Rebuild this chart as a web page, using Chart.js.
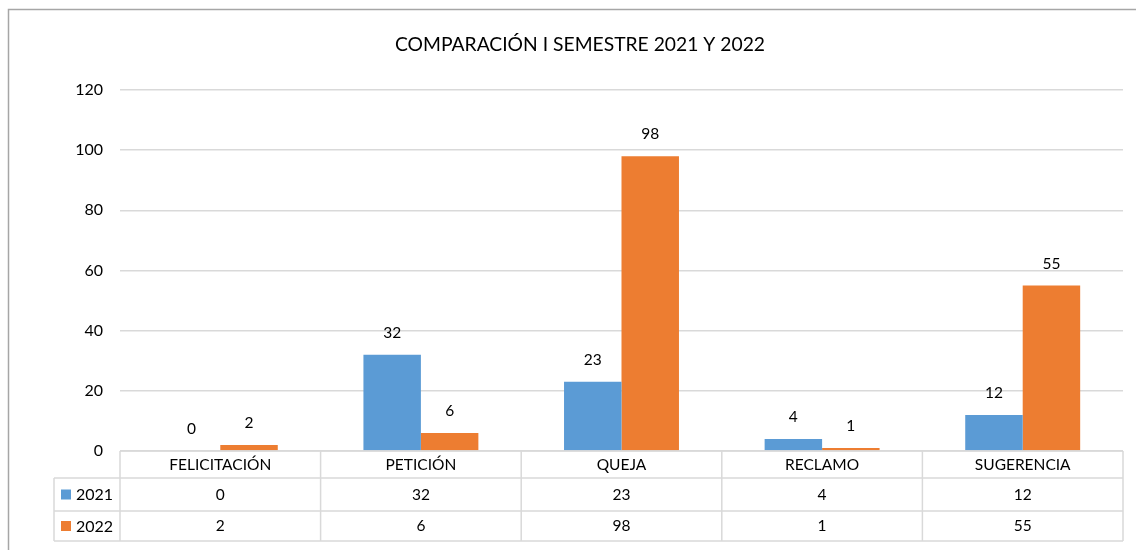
<!DOCTYPE html>
<html>
<head>
<meta charset="utf-8">
<script src="https://cdn.jsdelivr.net/npm/chart.js@4.4.0/dist/chart.umd.min.js"></script>
<style>
html,body{margin:0;padding:0;background:#fff;}
#wrap{width:1136px;height:550px;position:relative;}
</style>
</head>
<body>
<div id="wrap"><canvas id="c" width="1136" height="550"></canvas></div>
<script>
const categories = ['FELICITACIÓN', 'PETICIÓN', 'QUEJA', 'RECLAMO', 'SUGERENCIA'];
const seriesNames = ['2021', '2022'];
const values2021 = [0, 32, 23, 4, 12];
const values2022 = [2, 6, 98, 1, 55];
const yTicks = [0, 20, 40, 60, 80, 100, 120];
const titleText = 'COMPARACIÓN I SEMESTRE 2021 Y 2022';

const FONT = 'Lato, "Open Sans", sans-serif';
const colors = ['#5B9BD5', '#ED7D31'];
const seriesValues = [values2021, values2022];

const framePlugin = {
  id: 'frame',
  beforeDraw(chart) {
    const ctx = chart.ctx;
    ctx.save();
    ctx.strokeStyle = '#a6a6a6';
    ctx.lineWidth = 1.5;
    ctx.beginPath();
    ctx.moveTo(1140, 9.5);
    ctx.lineTo(8.5, 9.5);
    ctx.lineTo(8.5, 560);
    ctx.stroke();
    ctx.fillStyle = '#000';
    ctx.font = '19.3px ' + FONT;
    ctx.textAlign = 'center';
    ctx.textBaseline = 'middle';
    ctx.fillText(titleText, 580, 45);
    ctx.restore();
  }
};

const labelPlugin = {
  id: 'labels',
  afterDatasetsDraw(chart) {
    const ctx = chart.ctx;
    ctx.save();
    ctx.fillStyle = '#000';
    ctx.font = '15.5px ' + FONT;
    ctx.textAlign = 'center';
    ctx.textBaseline = 'middle';
    chart.data.datasets.forEach((ds, di) => {
      chart.getDatasetMeta(di).data.forEach((bar, i) => {
        ctx.fillText(String(ds.data[i]), bar.x, bar.y - 22);
      });
    });
    ctx.restore();
  }
};

const tablePlugin = {
  id: 'table',
  afterDraw(chart) {
    const ctx = chart.ctx;
    const xs = chart.scales.x;
    const area = chart.chartArea;
    const left = area.left, right = area.right;
    const n = categories.length;
    const cw = (right - left) / n;
    const top = area.bottom;
    const r1 = top + 27, r2 = top + 60, bottom = top + 90;
    const legLeft = 54;
    ctx.save();
    ctx.strokeStyle = '#d9d9d9';
    ctx.lineWidth = 1.5;
    ctx.beginPath();
    ctx.moveTo(left, top); ctx.lineTo(right, top);
    [r1, r2, bottom].forEach(y => { ctx.moveTo(legLeft, y); ctx.lineTo(right, y); });
    for (let i = 0; i <= n; i++) {
      const x = left + cw * i;
      ctx.moveTo(x, top); ctx.lineTo(x, bottom);
    }
    ctx.moveTo(legLeft, r1); ctx.lineTo(legLeft, bottom);
    ctx.stroke();

    ctx.fillStyle = '#000';
    ctx.font = '15.5px ' + FONT;
    ctx.textAlign = 'center';
    ctx.textBaseline = 'middle';
    const rowsY = [(r1 + r2) / 2, (r2 + bottom) / 2];
    categories.forEach((c, i) => {
      const cx = xs.getPixelForValue(i);
      ctx.fillText(c, cx, (top + r1) / 2);
      seriesValues.forEach((vals, s) => {
        ctx.fillText(String(vals[i]), cx, rowsY[s]);
      });
    });
    ctx.textAlign = 'left';
    ctx.font = '16px ' + FONT;
    seriesNames.forEach((nm, s) => {
      ctx.fillStyle = colors[s];
      ctx.fillRect(61, rowsY[s] - 5, 10, 10);
      ctx.fillStyle = '#000';
      ctx.fillText(nm, 76, rowsY[s] + 0.5);
    });
    ctx.restore();
  }
};

new Chart(document.getElementById('c'), {
  type: 'bar',
  data: {
    labels: categories,
    datasets: seriesNames.map((nm, s) => ({
      label: nm,
      data: seriesValues[s],
      backgroundColor: colors[s],
      borderWidth: 0,
      categoryPercentage: 0.573,
      barPercentage: 1
    }))
  },
  options: {
    responsive: false,
    animation: false,
    devicePixelRatio: 1,
    layout: { padding: { top: 90, right: 13, left: 0, bottom: 0 } },
    plugins: {
      legend: { display: false },
      title: { display: false },
      tooltip: { enabled: false }
    },
    scales: {
      x: {
        grid: { display: false },
        border: { display: false },
        ticks: { display: false },
        afterFit(scale) { scale.height = 99; }
      },
      y: {
        min: 0,
        max: 120,
        afterBuildTicks(scale) { scale.ticks = yTicks.map(v => ({ value: v })); },
        grid: { color: '#d9d9d9', lineWidth: 1.5, drawTicks: false },
        border: { display: false },
        ticks: {
          padding: 17,
          color: '#000',
          font: { family: FONT, size: 16 }
        },
        afterFit(scale) { scale.width = 120; }
      }
    }
  },
  plugins: [framePlugin, labelPlugin, tablePlugin]
});
</script>
</body>
</html>
